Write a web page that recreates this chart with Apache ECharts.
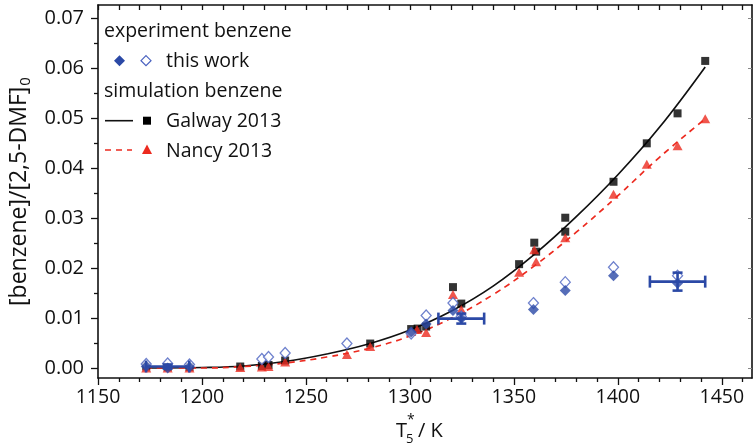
<!DOCTYPE html>
<html>
<head>
<meta charset="utf-8">
<script src="https://cdn.jsdelivr.net/npm/echarts@6/dist/echarts.min.js"></script>
<style>
  html, body { margin: 0; padding: 0; background: #fff; }
  #chart { width: 755px; height: 446px; }
</style>
</head>
<body>
<div id="chart"></div>
<script>
// ---- data: temperature T5* (K) and benzene yield [benzene]/[2,5-DMF]0 ----
const expFilled = [
  [1173.2, 0.0003], [1183.5, 0.0000], [1194.0, 0.0002],
  [1300.6, 0.0072], [1307.8, 0.0088], [1320.7, 0.0115], [1324.7, 0.0099],
  [1359.4, 0.0117], [1374.7, 0.0155], [1397.9, 0.0185], [1428.7, 0.0170]
];
const expOpen = [
  [1173.2, 0.0008], [1183.5, 0.0009], [1194.0, 0.0007],
  [1228.8, 0.0018], [1232.0, 0.0022], [1240.0, 0.0030], [1269.7, 0.0049],
  [1300.6, 0.0069], [1307.8, 0.0105], [1320.7, 0.0130], [1324.7, 0.0103],
  [1359.4, 0.0130], [1374.7, 0.0172], [1397.9, 0.0202], [1428.7, 0.0185]
];
// error bars: [T, value, ±T, ±value]
const expErrors = [
  [1183.5, 0.0003, 10.4, 0.0004],
  [1324.7, 0.0099, 11.0, 0.0010],
  [1428.7, 0.0173, 13.3, 0.0018]
];
const galwayPoints = [
  [1173.2, 0.0003], [1183.5, 0.0002], [1194.0, 0.0002], [1218.4, 0.0003],
  [1228.8, 0.0004], [1232.0, 0.0006], [1240.0, 0.0015], [1280.9, 0.0049],
  [1300.6, 0.0078], [1303.7, 0.0079], [1307.8, 0.0083], [1320.7, 0.0162],
  [1324.7, 0.0129], [1352.5, 0.0208], [1359.8, 0.0251], [1360.7, 0.0233],
  [1374.7, 0.0301], [1374.7, 0.0273], [1397.9, 0.0373], [1413.9, 0.0450],
  [1428.7, 0.0510], [1442.0, 0.0615]
];
const nancyPoints = [
  [1173.2, 0.0000], [1183.5, 0.0000], [1194.0, 0.0000], [1218.4, 0.0001],
  [1228.8, 0.0002], [1232.0, 0.0003], [1240.0, 0.0012], [1269.7, 0.0027],
  [1280.9, 0.0043], [1300.6, 0.0073], [1303.4, 0.0077], [1307.8, 0.0071],
  [1320.7, 0.0147], [1324.7, 0.0117], [1352.5, 0.0192], [1359.8, 0.0237],
  [1360.7, 0.0213], [1374.7, 0.0261], [1397.9, 0.0348], [1413.9, 0.0408],
  [1428.7, 0.0445], [1442.0, 0.0499]
];
const galwayCurve = [
  [1173, 0.0000], [1200, 0.0001], [1220, 0.0004], [1240, 0.0013], [1260, 0.0028],
  [1280, 0.0048], [1300, 0.0076], [1320, 0.0114], [1340, 0.0164], [1360, 0.0228],
  [1380, 0.0303], [1400, 0.0387], [1420, 0.0482], [1442, 0.0603]
];
const nancyCurve = [
  [1173, 0.0000], [1200, 0.0000], [1220, 0.0003], [1240, 0.0010], [1260, 0.0022],
  [1280, 0.0039], [1300, 0.0064], [1320, 0.0100], [1340, 0.0147], [1360, 0.0205],
  [1380, 0.0272], [1400, 0.0345], [1420, 0.0422], [1442, 0.0499]
];
const xMajorTicks = [1150, 1200, 1250, 1300, 1350, 1400, 1450];
const xMinorTicks = [1160, 1170, 1180, 1190, 1210, 1220, 1230, 1240, 1260, 1270, 1280, 1290,
  1310, 1320, 1330, 1340, 1360, 1370, 1380, 1390, 1410, 1420, 1430, 1440, 1460];
const yMajorTicks = [0, 0.01, 0.02, 0.03, 0.04, 0.05, 0.06, 0.07];
const yMinorTicks = [0.005, 0.015, 0.025, 0.035, 0.045, 0.055, 0.065];

const X_MIN = 1150, X_MAX = 1464.5, Y_MIN = -0.002, Y_MAX = 0.0727;
const FONT = '"Open Sans", sans-serif';
const BLUE = '#2b49a6', RED = '#ec2a1f';

const hiddenLine = { show: false, onZero: false };
const frameLine = { show: true, onZero: false, lineStyle: { color: '#111', width: 1.6 } };
const tickStyle = { color: '#111', width: 1.3 };

function xAxisBase(extra) {
  return Object.assign({
    type: 'value', min: X_MIN, max: X_MAX, splitLine: { show: false },
    axisLine: hiddenLine, axisLabel: { show: false }, axisTick: { show: false }
  }, extra);
}
function yAxisBase(extra) {
  return Object.assign({
    type: 'value', min: Y_MIN, max: Y_MAX, splitLine: { show: false },
    axisLine: hiddenLine, axisLabel: { show: false }, axisTick: { show: false }
  }, extra);
}

function renderErrorBar(params, api) {
  const t = api.value(0), v = api.value(1), dt = api.value(2), dv = api.value(3);
  const l = api.coord([t - dt, v]), r = api.coord([t + dt, v]);
  const top = api.coord([t, v + dv]), bot = api.coord([t, v - dv]);
  const style = { stroke: BLUE, lineWidth: 2.6, fill: null };
  const cap = 6, vcap = 5;
  const kids = [
    { type: 'line', shape: { x1: l[0], y1: l[1], x2: r[0], y2: r[1] }, style },
    { type: 'line', shape: { x1: l[0], y1: l[1] - cap, x2: l[0], y2: l[1] + cap }, style },
    { type: 'line', shape: { x1: r[0], y1: r[1] - cap, x2: r[0], y2: r[1] + cap }, style },
    { type: 'line', shape: { x1: top[0], y1: top[1], x2: bot[0], y2: bot[1] }, style },
    { type: 'line', shape: { x1: top[0] - vcap, y1: top[1], x2: top[0] + vcap, y2: top[1] }, style },
    { type: 'line', shape: { x1: bot[0] - vcap, y1: bot[1], x2: bot[0] + vcap, y2: bot[1] }, style }
  ];
  return { type: 'group', children: kids };
}

// legend drawn as graphic elements
const legendText = (text, x, y) => ({
  type: 'text', x, y,
  style: { text, font: '19.5px ' + FONT, fill: '#111', verticalAlign: 'middle', align: 'left' }
});
const diamond = (cx, cy, r) => [[cx, cy - r], [cx + r, cy], [cx, cy + r], [cx - r, cy]];
const titleText = (text, x, y, size) => ({
  type: 'text', x, y,
  style: { text, font: size + 'px ' + FONT, fill: '#111', verticalAlign: 'middle', align: 'left' }
});

const chart = echarts.init(document.getElementById('chart'), null, { renderer: 'canvas' });
chart.setOption({
  animation: false,
  backgroundColor: '#fff',
  grid: { left: 98, right: 3, top: 5, bottom: 68, containLabel: false, outerBoundsMode: 'none' },
  xAxis: [
    xAxisBase({
      position: 'bottom', axisLine: frameLine,
      axisTick: { show: true, inside: false, length: 7, lineStyle: tickStyle, customValues: xMajorTicks },
      axisLabel: {
        show: true, customValues: xMajorTicks, margin: 9, fontSize: 19.5, color: '#111', fontFamily: FONT,
        formatter: v => String(v)
      }
    }),
    xAxisBase({
      position: 'bottom',
      axisTick: { show: true, inside: false, length: 4, lineStyle: tickStyle, customValues: xMinorTicks }
    }),
    xAxisBase({
      position: 'top', axisLine: frameLine,
      axisTick: { show: true, inside: true, length: 5, lineStyle: tickStyle, customValues: xMajorTicks.concat(xMinorTicks) }
    })
  ],
  yAxis: [
    yAxisBase({
      position: 'left', axisLine: frameLine,
      axisTick: { show: true, inside: false, length: 7, lineStyle: tickStyle, customValues: yMajorTicks },
      axisLabel: {
        show: true, customValues: yMajorTicks, margin: 14, fontSize: 20, color: '#111', fontFamily: FONT,
        formatter: v => v.toFixed(2)
      },
      name: '[benzene]/[2,5-DMF]{sub|0}', nameLocation: 'middle', nameRotate: 90, nameGap: 59,
      nameTextStyle: {
        fontSize: 23, color: '#111', fontFamily: FONT,
        rich: { sub: { fontSize: 15, color: '#111', fontFamily: FONT, padding: [13, 0, 0, 1] } }
      }
    }),
    yAxisBase({
      position: 'left',
      axisTick: { show: true, inside: false, length: 4, lineStyle: tickStyle, customValues: yMinorTicks }
    }),
    yAxisBase({
      position: 'right', axisLine: frameLine,
      axisTick: { show: true, inside: true, length: 4, lineStyle: { color: '#888', width: 1 }, customValues: yMajorTicks }
    })
  ],
  graphic: [
    // x-axis title: T5* / K
    titleText('T', 396, 431, 20),
    titleText('*', 407, 420, 14),
    titleText('5', 406, 439, 13),
    titleText('/ K', 418, 431, 20),
    // legend
    legendText('experiment benzene', 104, 31),
    { type: 'polygon', shape: { points: diamond(119.5, 60.7, 5.5) }, style: { fill: BLUE } },
    { type: 'polygon', shape: { points: diamond(146, 60.7, 5) }, style: { fill: '#fff', stroke: '#4a62c0', lineWidth: 1.2 } },
    legendText('this work', 166, 61),
    legendText('simulation benzene', 104, 91),
    { type: 'line', shape: { x1: 105, y1: 120.7, x2: 133, y2: 120.7 }, style: { stroke: '#111', lineWidth: 1.6 } },
    { type: 'rect', shape: { x: 143, y: 116.7, width: 8, height: 8 }, style: { fill: '#000' } },
    legendText('Galway 2013', 166, 121),
    { type: 'line', shape: { x1: 105, y1: 150, x2: 132, y2: 150 }, style: { stroke: RED, lineWidth: 1.6, lineDash: [6, 5] } },
    { type: 'polygon', shape: { points: [[147, 144.5], [152, 154], [142, 154]] }, style: { fill: RED } },
    legendText('Nancy 2013', 166, 151)
  ],
  series: [
    {
      name: 'Galway 2013 curve', type: 'line', data: galwayCurve, smooth: 0.4, showSymbol: false,
      lineStyle: { color: '#111', width: 1.7 }, z: 2
    },
    {
      name: 'Nancy 2013 curve', type: 'line', data: nancyCurve, smooth: 0.4, showSymbol: false,
      lineStyle: { color: RED, width: 1.7, type: [6, 5] }, z: 2
    },
    {
      name: 'Galway 2013', type: 'scatter', data: galwayPoints, symbol: 'rect', symbolSize: 8,
      itemStyle: { color: '#000' }, z: 3
    },
    {
      name: 'Nancy 2013', type: 'scatter', data: nancyPoints, symbol: 'triangle', symbolSize: [10, 9],
      itemStyle: { color: RED }, z: 4
    },
    {
      name: 'this work (open)', type: 'scatter', data: expOpen, symbol: 'diamond', symbolSize: [10, 11],
      itemStyle: { color: '#fff', borderColor: '#4a62c0', borderWidth: 1.3 }, z: 5
    },
    {
      name: 'this work', type: 'scatter', data: expFilled, symbol: 'diamond', symbolSize: [11, 11],
      itemStyle: { color: BLUE }, z: 6
    },
    {
      name: 'error', type: 'custom', data: expErrors, renderItem: renderErrorBar,
      encode: { x: 0, y: 1 }, z: 7
    }
  ]
});
</script>
</body>
</html>
